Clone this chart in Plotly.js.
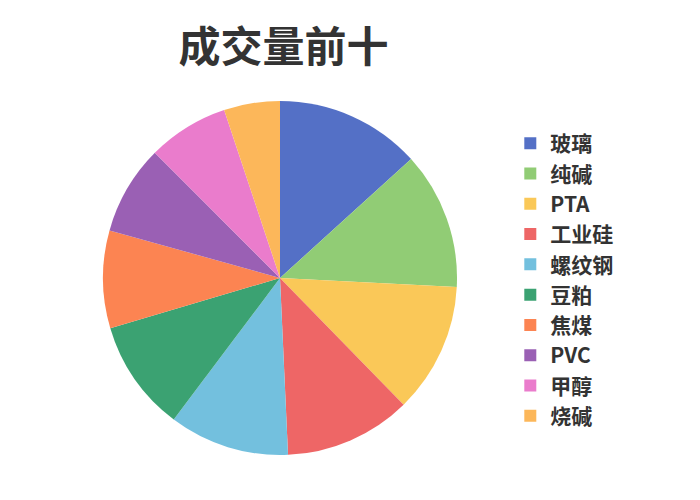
<!DOCTYPE html>
<html>
<head>
<meta charset="utf-8">
<script src="https://cdn.plot.ly/plotly-3.0.1.min.js"></script>
<style>html,body{margin:0;padding:0;background:#fff;}#chart{width:700px;height:500px;}</style>
</head>
<body>
<div id="chart"></div>
<script>
const categories = ["玻璃", "纯碱", "PTA", "工业硅", "螺纹钢", "豆粕", "焦煤", "PVC", "甲醇", "烧碱"];
const volumes = [47.8, 45.1, 42.8, 41.7, 39.5, 36.6, 32.1, 29.4, 26.6, 18.4];
const colors = ["#5470c6", "#91cc75", "#fac858", "#ee6666", "#73c0de", "#3ba272", "#fc8452", "#9a60b4", "#ea7ccc", "#fcb75a"];
const chartTitle = "成交量前十";

const trace = {
  type: "pie",
  labels: categories,
  values: volumes,
  sort: false,
  direction: "clockwise",
  rotation: 0,
  textinfo: "none",
  hoverinfo: "label+value+percent",
  marker: {colors: colors, line: {width: 0}},
  domain: {x: [0.147, 0.653], y: [0.09, 0.798]}
};

const layout = {
  width: 700, height: 500,
  margin: {l: 0, r: 0, t: 0, b: 0},
  paper_bgcolor: "#fff",
  font: {family: "'Noto Sans CJK SC', 'Noto Sans', sans-serif", color: "#333"},
  title: {text: "<b>" + chartTitle + "</b>", font: {size: 42, color: "#333"}, x: 0.405, xanchor: "center", y: 0.905, yanchor: "middle"},
  showlegend: true,
  legend: {x: 0.729, xanchor: "left", y: 0.44, yanchor: "middle", font: {size: 21, color: "#333", weight: 600}, itemclick: false, tracegroupgap: 0}
};

Plotly.newPlot("chart", [trace], layout, {displayModeBar: false, staticPlot: true});
</script>
</body>
</html>
